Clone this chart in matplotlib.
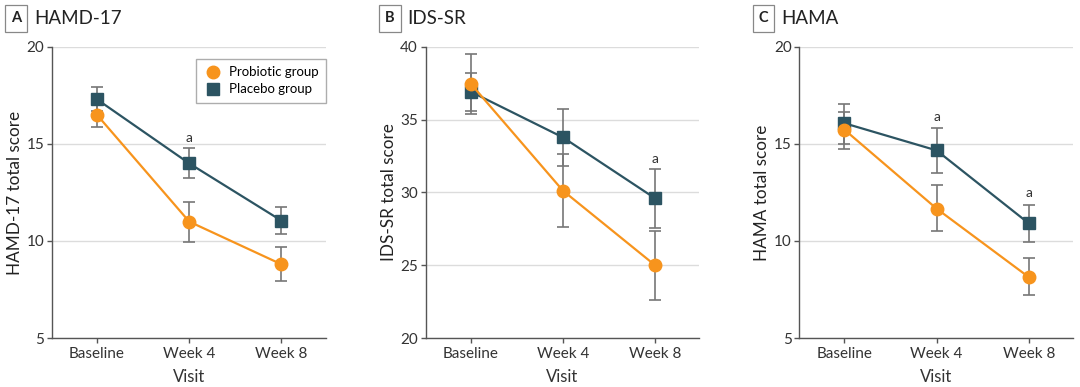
import matplotlib
matplotlib.use("Agg")
import matplotlib.pyplot as plt

plt.rcParams['font.family'] = ['Lato', 'DejaVu Sans']

visits = ["Baseline", "Week 4", "Week 8"]

# HAMD-17
hamd_pro = [16.5, 11.0, 8.8]
hamd_pro_lo = [15.9, 9.93, 7.92]
hamd_pro_hi = [17.1, 12.03, 9.67]
hamd_pla = [17.3, 14.0, 11.05]
hamd_pla_lo = [16.7, 13.23, 10.38]
hamd_pla_hi = [17.92, 14.78, 11.75]

# IDS-SR
ids_pro = [37.48, 30.13, 25.0]
ids_pro_lo = [35.37, 27.63, 22.6]
ids_pro_hi = [39.52, 32.63, 27.35]
ids_pla = [36.93, 33.79, 29.6]
ids_pla_lo = [35.62, 31.8, 27.56]
ids_pla_hi = [38.23, 35.76, 31.6]

# HAMA
hama_pro = [15.74, 11.67, 8.14]
hama_pro_lo = [14.76, 10.5, 7.2]
hama_pro_hi = [16.67, 12.87, 9.11]
hama_pla = [16.07, 14.67, 10.91]
hama_pla_lo = [14.98, 13.52, 9.96]
hama_pla_hi = [17.05, 15.82, 11.87]

ORANGE = "#F7941D"
TEAL = "#2C5462"
GRAY = "#777777"

panels = [
    dict(letter="A", title="HAMD-17", ylabel="HAMD-17 total score", ylim=(5, 20), yticks=[5, 10, 15, 20],
         pro=(hamd_pro, hamd_pro_lo, hamd_pro_hi), pla=(hamd_pla, hamd_pla_lo, hamd_pla_hi),
         sig=[(1, 15.32)], left=0.048),
    dict(letter="B", title="IDS-SR", ylabel="IDS-SR total score", ylim=(20, 40), yticks=[20, 25, 30, 35, 40],
         pro=(ids_pro, ids_pro_lo, ids_pro_hi), pla=(ids_pla, ids_pla_lo, ids_pla_hi),
         sig=[(2, 32.3)], left=0.394),
    dict(letter="C", title="HAMA", ylabel="HAMA total score", ylim=(5, 20), yticks=[5, 10, 15, 20],
         pro=(hama_pro, hama_pro_lo, hama_pro_hi), pla=(hama_pla, hama_pla_lo, hama_pla_hi),
         sig=[(1, 16.38), (2, 12.46)], left=0.740),
]

fig = plt.figure(figsize=(10.8, 3.87), dpi=100)
x = list(range(len(visits)))

for p in panels:
    ax = fig.add_axes([p["left"], 0.1266, 0.2535, 0.752])
    for vals in [p["pla"], p["pro"]]:
        mean, lo, hi = vals
        err = [[m - l for m, l in zip(mean, lo)], [h - m for m, h in zip(mean, hi)]]
        ax.errorbar(x, mean, yerr=err, fmt="none", ecolor=GRAY, elinewidth=1.2,
                    capsize=4, capthick=1.2, zorder=2)
    for vals, color, marker, ms, lab in [(p["pla"], TEAL, "s", 9, "Placebo group"),
                                          (p["pro"], ORANGE, "o", 9, "Probiotic group")]:
        ax.plot(x, vals[0], color=color, lw=1.6, marker=marker, ms=ms, zorder=3, label=lab)
    for xi, yi in p["sig"]:
        ax.text(xi, yi, "a", ha="center", va="center", fontsize=10, color="#333333")

    ax.set_xlim(-0.49, 2.48)
    ax.set_ylim(*p["ylim"])
    ax.set_yticks(p["yticks"])
    ax.set_xticks(x)
    ax.set_xticklabels(visits)
    ax.grid(axis="y", color="#dcdcdc", lw=1)
    ax.set_axisbelow(True)
    for s in ["top", "right"]:
        ax.spines[s].set_visible(False)
    for s in ["left", "bottom"]:
        ax.spines[s].set_color("#555555")
        ax.spines[s].set_linewidth(1)
    ax.tick_params(axis="both", colors="#555555", labelcolor="#333333", labelsize=11,
                   length=3.5, width=1)
    ax.tick_params(axis="x", pad=3)
    ax.tick_params(axis="y", pad=2)
    ax.set_xlabel("Visit", fontsize=12, color="#333333", labelpad=6)
    ax.set_ylabel(p["ylabel"], fontsize=12.3, color="#222222")
    ax.yaxis.set_label_coords(-0.105, 0.5)

    # panel heading
    fig.text(p["left"] - 0.033, 1 - 18.5 / 387, p["letter"], fontsize=10.5, fontweight="bold",
             ha="center", va="center", color="#222222",
             bbox=dict(boxstyle="square,pad=0.42", fc="white", ec="#888888", lw=0.9))
    fig.text(p["left"] - 0.0165, 1 - 18.5 / 387, p["title"], fontsize=13.5, ha="left", va="center",
             color="#222222")

    if p["letter"] == "A":
        h, l = ax.get_legend_handles_labels()
        leg = ax.legend(h[::-1], l[::-1], loc="upper right", bbox_to_anchor=(1.0, 0.959),
                        borderaxespad=0, fontsize=9.5, frameon=True, fancybox=False,
                        handletextpad=0.5, handlelength=1.4, borderpad=0.55, labelspacing=0.4)
        leg.get_frame().set_edgecolor("#999999")
        leg.get_frame().set_linewidth(1)
        for line in leg.get_lines():
            line.set_linestyle("none")

fig.savefig("out.png", dpi=100)
